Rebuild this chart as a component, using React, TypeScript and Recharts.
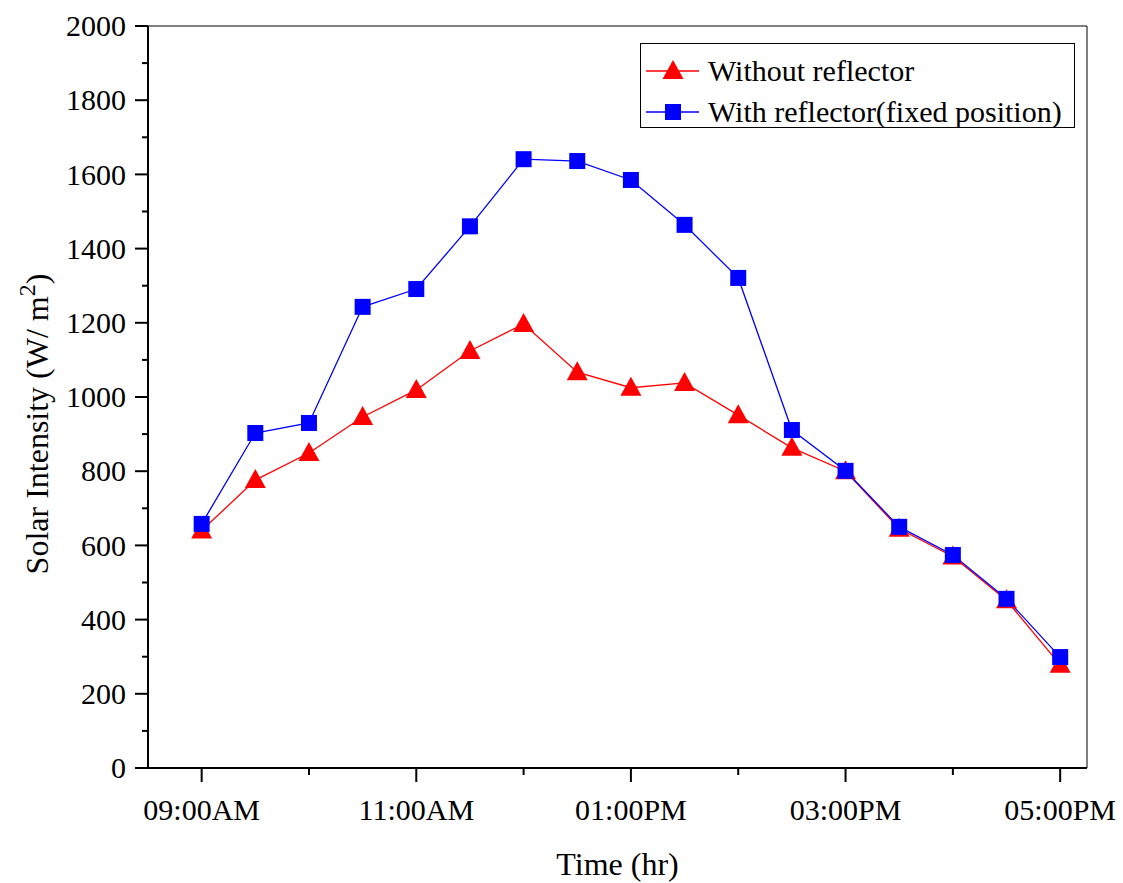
import { Legend, Line, LineChart, ReferenceLine, XAxis, YAxis } from "recharts";

const times = [
  "09:00AM", "09:30AM", "10:00AM", "10:30AM", "11:00AM", "11:30AM", "12:00PM", "12:30PM", "01:00PM",
  "01:30PM", "02:00PM", "02:30PM", "03:00PM", "03:30PM", "04:00PM", "04:30PM", "05:00PM",
];
const withoutReflector = [640, 776, 849, 946, 1019, 1124, 1197, 1067, 1025, 1038, 951, 863, 800, 645, 570, 452, 278];
const withReflector = [658, 903, 930, 1243, 1291, 1460, 1641, 1636, 1585, 1464, 1321, 911, 801, 650, 574, 456, 299];
const xTicks = [0, 2, 4, 6, 8, 10, 12, 14, 16];
const xLabelled = [0, 4, 8, 12, 16];
const yTicks = [0, 100, 200, 300, 400, 500, 600, 700, 800, 900, 1000, 1100, 1200, 1300, 1400, 1500, 1600, 1700, 1800, 1900, 2000];
const legendOrder = ["without", "with"];

const data = times.map((t, i) => ({ slot: i, time: t, without: withoutReflector[i], with: withReflector[i] }));

const serif = "'Liberation Serif', 'Times New Roman', serif";

const triangle = (cx: number, cy: number) => (
  <polygon points={`${cx},${cy - 11} ${cx - 10.5},${cy + 8} ${cx + 10.5},${cy + 8}`} fill="#ff0000" />
);
const square = (cx: number, cy: number) => <rect x={cx - 8} y={cy - 8} width={16} height={16} fill="#0000ff" />;

const TriangleDot = (p: any) => <g key={`t${p.index}`}>{triangle(p.cx, p.cy)}</g>;
const SquareDot = (p: any) => <g key={`s${p.index}`}>{square(p.cx, p.cy)}</g>;

function TimeTick({ x, y, payload }: any) {
  const major = xLabelled.includes(payload.value);
  return (
    <g>
      <line x1={x} x2={x} y1={y} y2={y + (major ? 14 : 7)} stroke="#000" strokeWidth={2} />
      {major && (
        <text x={x} y={y + 52} textAnchor="middle" fontFamily={serif} fontSize={30} fill="#000">
          {times[payload.value]}
        </text>
      )}
    </g>
  );
}

function ValueTick({ x, y, payload }: any) {
  const major = payload.value % 200 === 0;
  return (
    <g>
      <line x1={x - (major ? 13 : 6)} x2={x} y1={y} y2={y} stroke="#000" strokeWidth={2} />
      {major && (
        <text x={x - 22} y={y} dy="0.34em" textAnchor="end" fontFamily={serif} fontSize={30} fill="#000">
          {payload.value}
        </text>
      )}
    </g>
  );
}

function YTitle({ viewBox }: any) {
  const cy = viewBox.y + viewBox.height / 2 + 27;
  const x = 48;
  return (
    <text x={x} y={cy} transform={`rotate(-90, ${x}, ${cy})`} textAnchor="middle" fontFamily={serif} fontSize={32} fill="#000">
      Solar Intensity (W/ m<tspan dy={-13} fontSize={24}>2</tspan><tspan dy={13}>)</tspan>
    </text>
  );
}

function XTitle({ viewBox }: any) {
  const cx = viewBox.x + viewBox.width / 2;
  return (
    <text x={cx} y={875} textAnchor="middle" fontFamily={serif} fontSize={32} fill="#000">
      Time (hr)
    </text>
  );
}

function LegendBox({ payload }: any) {
  const items = legendOrder
    .map((key) => (payload || []).find((e: any) => e.dataKey === key))
    .filter(Boolean);
  return (
    <div style={{ width: 435, height: 85, border: "1px solid #000", boxSizing: "border-box", background: "#fff" }}>
      <svg width={433} height={83}>
        {items.map((entry: any, i: number) => {
          const cy = 27 + i * 41;
          const red = entry.dataKey === "without";
          return (
            <g key={entry.value}>
              <line x1={5} x2={58} y1={cy} y2={cy} stroke={red ? "#ff0000" : "#0000ff"} strokeWidth={1.3} />
              {red ? triangle(32, cy) : square(32, cy)}
              <text x={67} y={cy + 10} fontFamily={serif} fontSize={30} fill="#000">
                {entry.value}
              </text>
            </g>
          );
        })}
      </svg>
    </div>
  );
}

export default function App() {
  return (
    <div style={{ position: "absolute", left: 0, top: 0, background: "#fff" }}>
      <LineChart width={1123} height={883} data={data} margin={{ top: 26, right: 36, bottom: 0, left: 0 }}>
        <XAxis
          dataKey="slot"
          type="number"
          domain={[-1, 16.5]}
          ticks={xTicks}
          interval={0}
          tickSize={0}
          tickMargin={0}
          tick={<TimeTick />}
          height={115}
          axisLine={{ stroke: "#000", strokeWidth: 2 }}
          label={{ content: <XTitle /> }}
        />
        <YAxis
          type="number"
          domain={[0, 2000]}
          ticks={yTicks}
          interval={0}
          tickSize={0}
          tickMargin={0}
          tick={<ValueTick />}
          width={148}
          axisLine={{ stroke: "#000", strokeWidth: 2 }}
          label={{ content: <YTitle /> }}
        />
        <ReferenceLine y={2000} stroke="#000" strokeWidth={1} />
        <ReferenceLine x={16.5} stroke="#000" strokeWidth={1} />
        <Legend
          layout="vertical"
          align="center"
          verticalAlign="middle"
          wrapperStyle={{ left: 640, top: 43, width: 435, height: 85 }}
          content={<LegendBox />}
        />
        <Line
          dataKey="without"
          name="Without reflector"
          stroke="#ff0000"
          strokeWidth={1.3}
          dot={TriangleDot}
          activeDot={false}
          isAnimationActive={false}
        />
        <Line
          dataKey="with"
          name="With reflector(fixed position)"
          stroke="#0000ff"
          strokeWidth={1.3}
          dot={SquareDot}
          activeDot={false}
          isAnimationActive={false}
        />
      </LineChart>
    </div>
  );
}
